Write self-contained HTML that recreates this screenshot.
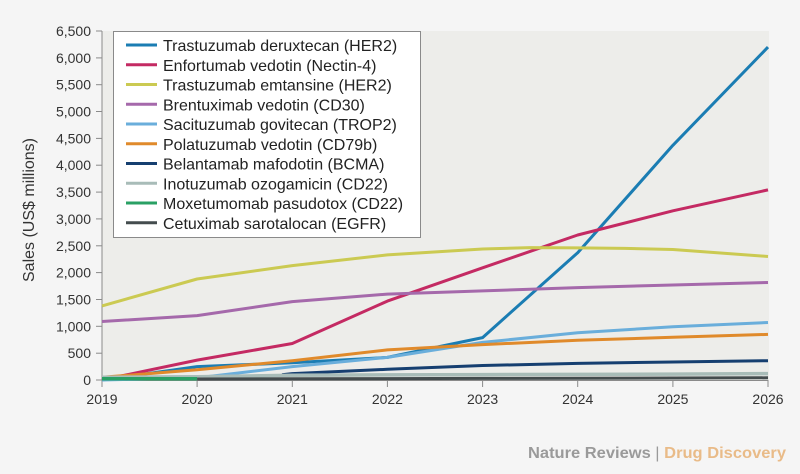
<!DOCTYPE html>
<html>
<head>
<meta charset="utf-8">
<style>
html,body{margin:0;padding:0;background:#f5f5f5;}
svg{display:block;}
text{font-family:"Liberation Sans",sans-serif;}
</style>
</head>
<body>
<svg width="800" height="474" viewBox="0 0 800 474" xmlns="http://www.w3.org/2000/svg">
<rect x="0" y="0" width="800" height="474" fill="#f5f5f5"/>
<rect x="102" y="31" width="667" height="349" fill="#ededea"/>

<!-- axes -->
<g stroke="#8a8a8a" stroke-width="1" fill="none">
<line x1="102" y1="31" x2="102" y2="380"/>
<line x1="102" y1="380.5" x2="768" y2="380.5"/>
<line x1="96" y1="31" x2="102" y2="31"/>
<line x1="96" y1="57.9" x2="102" y2="57.9"/>
<line x1="96" y1="84.7" x2="102" y2="84.7"/>
<line x1="96" y1="111.5" x2="102" y2="111.5"/>
<line x1="96" y1="138.4" x2="102" y2="138.4"/>
<line x1="96" y1="165.2" x2="102" y2="165.2"/>
<line x1="96" y1="192.1" x2="102" y2="192.1"/>
<line x1="96" y1="218.9" x2="102" y2="218.9"/>
<line x1="96" y1="245.8" x2="102" y2="245.8"/>
<line x1="96" y1="272.6" x2="102" y2="272.6"/>
<line x1="96" y1="299.5" x2="102" y2="299.5"/>
<line x1="96" y1="326.3" x2="102" y2="326.3"/>
<line x1="96" y1="353.2" x2="102" y2="353.2"/>
<line x1="96" y1="380" x2="102" y2="380"/>
<line x1="102" y1="380" x2="102" y2="387"/>
<line x1="197.1" y1="380" x2="197.1" y2="387"/>
<line x1="292.3" y1="380" x2="292.3" y2="387"/>
<line x1="387.4" y1="380" x2="387.4" y2="387"/>
<line x1="482.6" y1="380" x2="482.6" y2="387"/>
<line x1="577.7" y1="380" x2="577.7" y2="387"/>
<line x1="672.9" y1="380" x2="672.9" y2="387"/>
<line x1="768" y1="380" x2="768" y2="387"/>
</g>

<!-- y tick labels -->
<g font-size="14" fill="#333" text-anchor="end">
<text x="91" y="36">6,500</text>
<text x="91" y="62.9">6,000</text>
<text x="91" y="89.7">5,500</text>
<text x="91" y="116.5">5,000</text>
<text x="91" y="143.4">4,500</text>
<text x="91" y="170.2">4,000</text>
<text x="91" y="197.1">3,500</text>
<text x="91" y="223.9">3,000</text>
<text x="91" y="250.8">2,500</text>
<text x="91" y="277.6">2,000</text>
<text x="91" y="304.5">1,500</text>
<text x="91" y="331.3">1,000</text>
<text x="91" y="358.2">500</text>
<text x="91" y="385">0</text>
</g>

<!-- x tick labels -->
<g font-size="14" fill="#333" text-anchor="middle">
<text x="102" y="404">2019</text>
<text x="197.1" y="404">2020</text>
<text x="292.3" y="404">2021</text>
<text x="387.4" y="404">2022</text>
<text x="482.6" y="404">2023</text>
<text x="577.7" y="404">2024</text>
<text x="672.9" y="404">2025</text>
<text x="768" y="404">2026</text>
</g>

<text x="0" y="0" font-size="16" fill="#333" text-anchor="middle" transform="translate(34,210) rotate(-90)" textLength="144" lengthAdjust="spacingAndGlyphs">Sales (US$ millions)</text>

<!-- series -->
<g fill="none" stroke-width="3" stroke-linejoin="round" stroke-linecap="butt">
<polyline stroke="#1b7db3" points="102,380 197.1,366.6 292.3,362.8 387.4,357.4 482.6,337.6 577.7,252.7 672.9,145.3 768,47.1"/>
<polyline stroke="#c42a63" points="102,380 197.1,360.1 292.3,343.5 387.4,301.1 482.6,267.8 577.7,235 672.9,210.8 768,189.9"/>
<polyline stroke="#cbca52" points="102,305.9 197.1,279 292.3,265.6 387.4,254.9 482.6,249 530,247.6 577.7,247.9 625,248.4 672.9,249.5 768,256.5"/>
<polyline stroke="#a569ab" points="102,321.5 197.1,315.6 292.3,301.6 387.4,294.1 482.6,290.9 577.7,287.6 672.9,285 768,282.5"/>
<polyline stroke="#6aaedb" points="102,380 197.1,377.9 292.3,366.6 387.4,357.4 482.6,342.4 577.7,332.7 672.9,326.8 768,322.5"/>
<polyline stroke="#e08a2b" points="102,377.3 197.1,369.8 292.3,360.7 387.4,349.9 482.6,344.6 577.7,340.3 672.9,337.3 768,334.4"/>
<polyline stroke="#163f70" points="282,374.8 292.3,373.6 387.4,369.3 482.6,365.5 577.7,363.4 672.9,362 768,360.7"/>
<polyline stroke="#a8bcb8" stroke-width="3.5" points="102,377.3 197.1,376.8 292.3,375.2 387.4,374.9 482.6,374.6 577.7,374.4 672.9,374.1 768,373.6"/>
<polyline stroke="#2aa064" stroke-width="3.5" points="102,378.8 197.1,378.8"/>
<polyline stroke="#444c4e" stroke-width="3" points="197.1,379 292.3,378.8 387.4,378.6 482.6,378.4 577.7,378.2 672.9,378 768,377.8"/>
</g>

<!-- legend -->
<rect x="113.5" y="31.5" width="307" height="206" fill="#ffffff" stroke="#8a8a8a" stroke-width="1"/>
<g stroke-width="3">
<line x1="126" y1="45" x2="157" y2="45" stroke="#1b7db3"/>
<line x1="126" y1="64.75" x2="157" y2="64.75" stroke="#c42a63"/>
<line x1="126" y1="84.5" x2="157" y2="84.5" stroke="#cbca52"/>
<line x1="126" y1="104.25" x2="157" y2="104.25" stroke="#a569ab"/>
<line x1="126" y1="124" x2="157" y2="124" stroke="#6aaedb"/>
<line x1="126" y1="143.75" x2="157" y2="143.75" stroke="#e08a2b"/>
<line x1="126" y1="163.5" x2="157" y2="163.5" stroke="#163f70"/>
<line x1="126" y1="183.25" x2="157" y2="183.25" stroke="#a8bcb8"/>
<line x1="126" y1="203" x2="157" y2="203" stroke="#2aa064"/>
<line x1="126" y1="222.75" x2="157" y2="222.75" stroke="#444c4e"/>
</g>
<g font-size="16" fill="#222">
<text x="163" y="51">Trastuzumab deruxtecan (HER2)</text>
<text x="163" y="70.75">Enfortumab vedotin (Nectin-4)</text>
<text x="163" y="90.5">Trastuzumab emtansine (HER2)</text>
<text x="163" y="110.25">Brentuximab vedotin (CD30)</text>
<text x="163" y="130">Sacituzumab govitecan (TROP2)</text>
<text x="163" y="149.75">Polatuzumab vedotin (CD79b)</text>
<text x="163" y="169.5">Belantamab mafodotin (BCMA)</text>
<text x="163" y="189.25">Inotuzumab ozogamicin (CD22)</text>
<text x="163" y="209">Moxetumomab pasudotox (CD22)</text>
<text x="163" y="228.75">Cetuximab sarotalocan (EGFR)</text>
</g>

<!-- footer -->
<text x="528" y="458" font-size="16" font-weight="bold" textLength="258" lengthAdjust="spacingAndGlyphs"><tspan fill="#9a9a9a">Nature Reviews </tspan><tspan fill="#9a9a9a" font-weight="normal">|</tspan><tspan fill="#e9bb88"> Drug Discovery</tspan></text>
</svg>
</body>
</html>
